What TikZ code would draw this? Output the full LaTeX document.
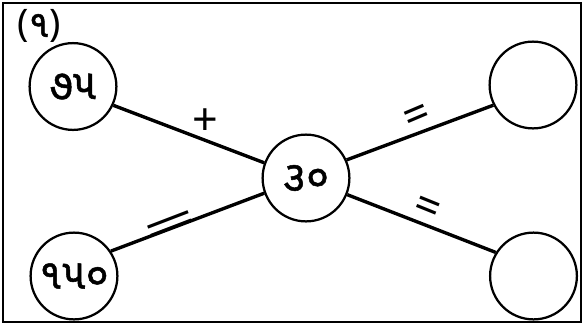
\documentclass[tikz,border=0pt]{standalone}
\usepackage{fontspec}
\setmainfont{Noto Sans}
\newfontfamily\gujfont[Script=Gujarati,FakeBold=1.2]{Noto Sans Gujarati UI}
\usepackage{tikz}
\usetikzlibrary{positioning}
\tikzset{
	numnode/.style={
			shape=circle,
			draw=black,
			line width=1.6pt,
			fill=white,
			minimum size=21.7mm,
			inner sep=0pt,
			font=\fontsize{30}{34}\selectfont\gujfont
		},
	signnode/.style={
			inner sep=0pt,
			font=\fontsize{32}{36}\selectfont
		},
	joinline/.style={
			line width=2.4pt
		}
}

\begin{document}
\begin{tikzpicture}

  \useasboundingbox (0,0) rectangle (14.6,-8.075);
  \draw[line width=1.4pt] (0.075,-0.075) rectangle (14.525,-8.04);

  \node (lbl) at (0.975,-0.66) {\fontsize{27}{31}\selectfont(\gujfont ૧\normalfont)};

  \node[numnode] (n75) at (1.825,-2.1625) {૭૫};
  \node[numnode] (n150) at (1.85,-6.9) {૧૫૦};
  \node[numnode] (n30) at (7.65,-4.45) {૩૦};
  \node[numnode] (rtop) at (13.325,-2.125) {};
  \node[numnode] (rbot) at (13.3375,-6.9) {};

  \draw[joinline] (n75.-25) -- (n30.160);
  \draw[joinline] (n150.34) -- (n30.200);
  \draw[joinline] (n30.24) -- (rtop.207);
  \draw[joinline] (n30.-22) -- (rbot.148);

  \node[signnode] (plus) at (5.125,-3.06) {+};
  \node[signnode, rotate=21] (eqbl) at (4.30,-5.71) {\scalebox{2.1}[1]{=}};
  \node[signnode, rotate=23] (eqtop) at (10.45,-2.97) {=};
  \node[signnode, rotate=-22] (eqbot) at (10.675,-5.26) {=};

\end{tikzpicture}
\end{document}
